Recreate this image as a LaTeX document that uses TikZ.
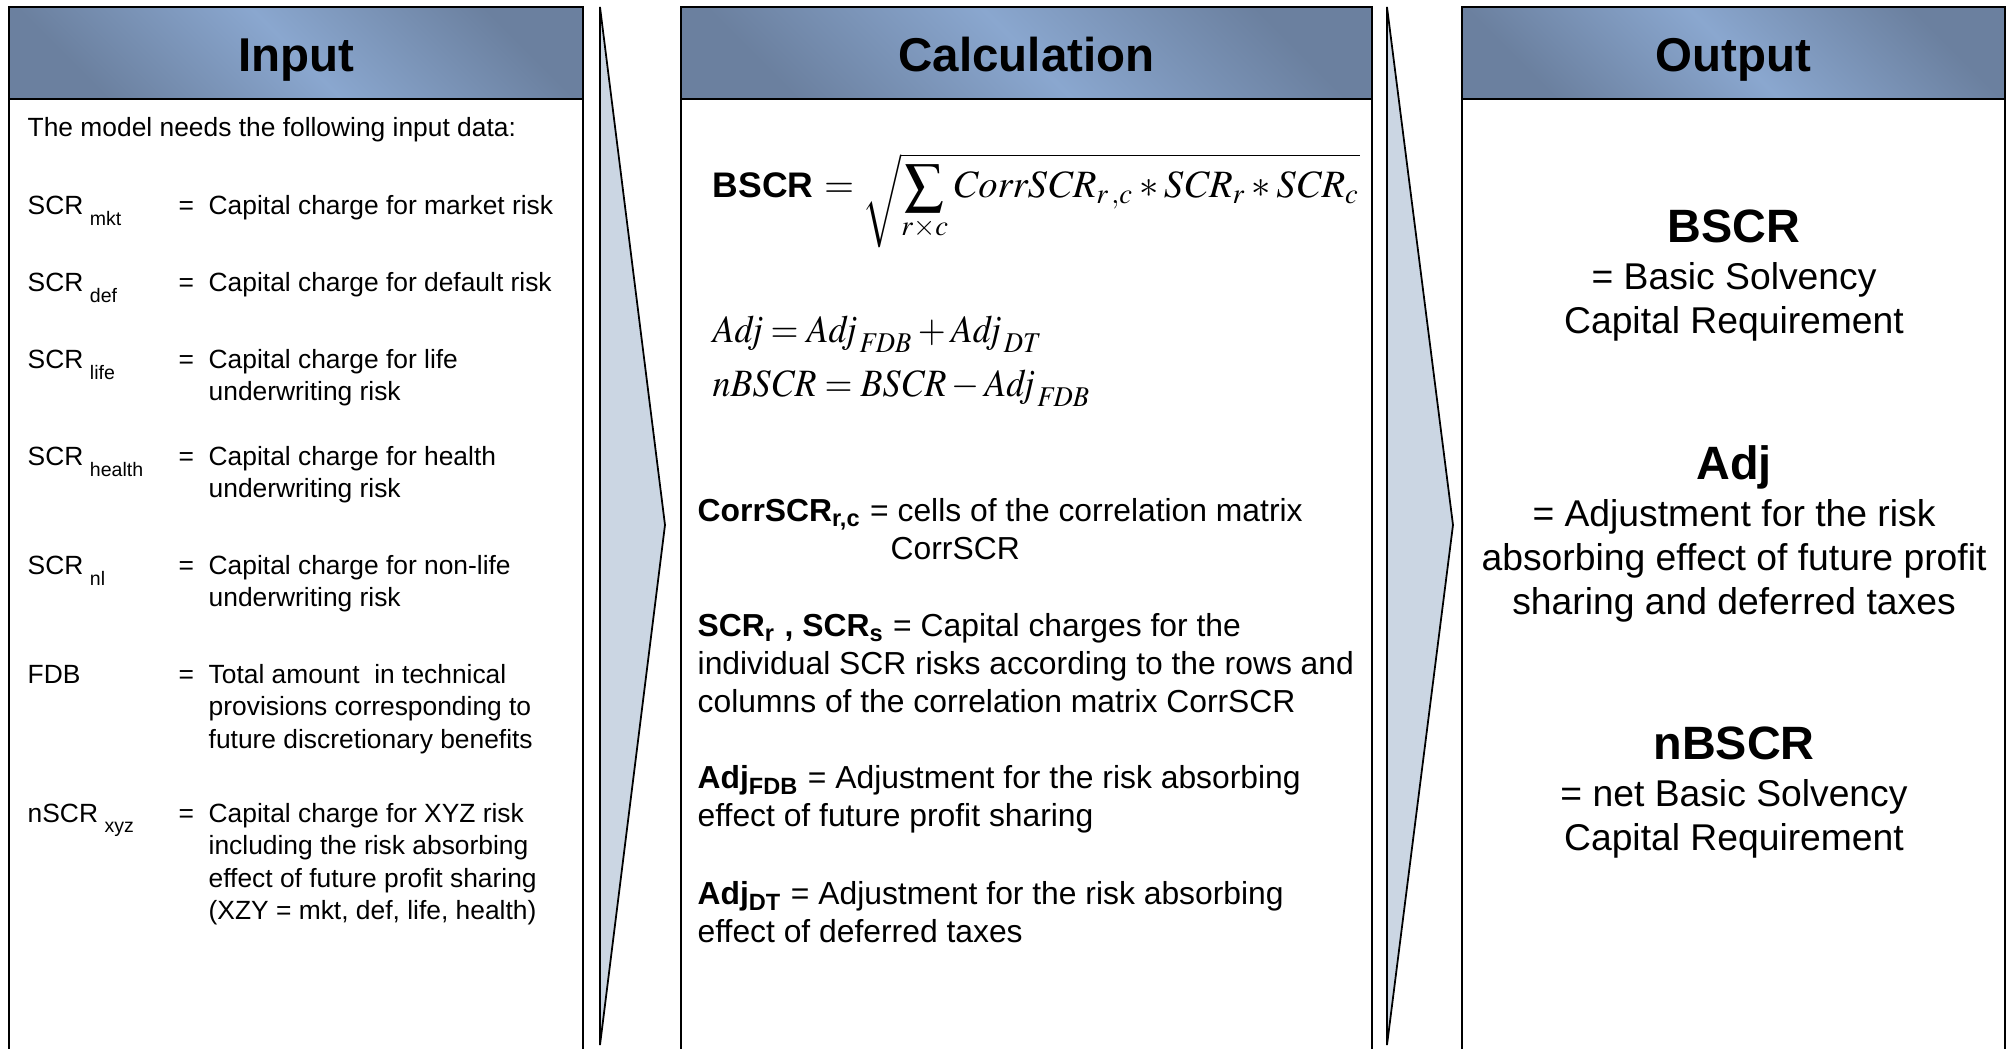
\documentclass[tikz,border=0pt]{standalone}
\usepackage{mathptmx}
\usepackage[no-math]{fontspec}
\setmainfont{Liberation Sans}
\definecolor{hdrlight}{HTML}{8AA7CF}
\definecolor{hdrdark}{HTML}{6B809F}
\definecolor{arrowfill}{HTML}{CBD6E3}
\newcommand{\lowidx}[1]{\hspace{0.25em}\raisebox{-.2em}{\textsubscript{#1}}}
\newcommand{\linestack}[2]{\begin{tabular}[t]{@{}#1@{}}#2\end{tabular}}
\begin{document}
\begin{tikzpicture}[x=0.01cm, y=-0.01cm,
    hdr/.style={draw, line width=0.6pt, top color=hdrdark, bottom color=hdrdark, middle color=hdrlight, shading angle=-45},
    panel/.style={draw, line width=0.6pt, fill=white},
    chevron/.style={draw, line width=0.5pt, fill=arrowfill, line join=miter},
    title/.style={anchor=base, inner sep=0pt, font=\fontsize{13.5}{16}\selectfont\bfseries},
    intext/.style={anchor=base west, inner sep=0pt, font=\fontsize{7.5}{9.1}\selectfont},
    calctext/.style={anchor=base west, inner sep=0pt, font=\fontsize{9.05}{10.8}\selectfont},
    formula/.style={anchor=base west, inner sep=0pt, font=\fontsize{11}{13}\selectfont},
    outhead/.style={anchor=base, inner sep=0pt, font=\fontsize{13.3}{16}\selectfont\bfseries},
    outtext/.style={anchor=base, inner sep=0pt, font=\fontsize{10.6}{12.4}\selectfont},
  ]
  \useasboundingbox (0,0) rectangle (2011,1049);
  \clip (0,0) rectangle (2011,1049);

  % panels with header
  \foreach \l/\r/\nm/\txt in {9/583/input/Input, 681/1372/calc/Calculation, 1462/2005/output/Output}{
    \draw[panel] (\l,1070) -- (\l,99) -- (\r,99) -- (\r,1070);
    \draw[hdr] (\l,7) rectangle (\r,99);
    \node[title] (\nm-title) at ({(\l+\r)/2},72) {\txt};
  }

  % arrows between panels
  \draw[chevron] (600,7) -- (665,525) -- (600,1045) -- cycle;
  \draw[chevron] (1387,7) -- (1453,525) -- (1387,1045) -- cycle;

  % input
  \node[intext] (intro) at (27,137) {The model needs the following input data:};
  \foreach \yy/\nm/\lab/\txt in {
      215/mkt/{SCR\lowidx{mkt}}/{Capital charge for market risk},
      292/def/{SCR\lowidx{def}}/{Capital charge for default risk},
      369/life/{SCR\lowidx{life}}/{Capital charge for life\\underwriting risk},
      466/health/{SCR\lowidx{health}}/{Capital charge for health\\underwriting risk},
      575/nl/{SCR\lowidx{nl}}/{Capital charge for non-life\\underwriting risk},
      684/fdb/{FDB}/{Total amount\ \ in technical\\provisions corresponding to\\future discretionary benefits},
      823/nscr/{nSCR\lowidx{xyz}}/{Capital charge for XYZ risk\\including the risk absorbing\\effect of future profit sharing\\(XZY = mkt, def, life, health)}}{
    \node[intext] (\nm-lbl) at (27,\yy) {\lab};
    \node[intext] (\nm-eq) at (178,\yy) {=};
    \node[intext] (\nm-def) at (208,\yy) {\linestack{l}{\txt}};
  }

  % calculation
  \node[formula] (bscr) at (712,198) {{\fontsize{10.1}{12}\selectfont\bfseries BSCR} ${=}\;\sqrt{\displaystyle\sum_{r\times c} \mathit{CorrSCR}_{r\,,c} * \mathit{SCR}_{r} * \mathit{SCR}_{c}}$};
  \node[formula] (adj) at (712,343) {\scalebox{0.93}[1]{$\mathit{Adj} = \mathit{Adj}_{\,\mathit{FDB}} + \mathit{Adj}_{\,\mathit{DT}}$}};
  \node[formula] (nbscr) at (712,397) {\scalebox{0.93}[1]{$\mathit{nBSCR} = \mathit{BSCR} - \mathit{Adj}_{\,\mathit{FDB}}$}};

  \node[calctext] (corr) at (697,522) {\textbf{CorrSCR\textsubscript{r,c}} = cells of the correlation matrix};
  \node[calctext] (corr2) at (890,560) {CorrSCR};
  \node[calctext] (scr) at (697,637) {\linestack{l}{\textbf{SCR\textsubscript{r} , SCR\textsubscript{s}} = Capital charges for the\\individual SCR risks according to the rows and\\columns of the correlation matrix CorrSCR}};
  \node[calctext] (adjfdb) at (697,789) {\linestack{l}{\textbf{Adj\textsubscript{FDB}} = Adjustment for the risk absorbing\\effect of future profit sharing}};
  \node[calctext] (adjdt) at (697,905) {\linestack{l}{\textbf{Adj\textsubscript{DT}} = Adjustment for the risk absorbing\\effect of deferred taxes}};

  % output
  \node[outhead] (o-bscr) at (1734,243) {BSCR};
  \node[outtext] (o-bscr-txt) at (1734,290) {\linestack{c}{= Basic Solvency\\Capital Requirement}};
  \node[outhead] (o-adj) at (1734,480) {Adj};
  \node[outtext] (o-adj-txt) at (1734,527) {\linestack{c}{= Adjustment for the risk\\absorbing effect of future profit\\sharing and deferred taxes}};
  \node[outhead] (o-nbscr) at (1734,760) {nBSCR};
  \node[outtext] (o-nbscr-txt) at (1734,807) {\linestack{c}{= net Basic Solvency\\Capital Requirement}};
\end{tikzpicture}
\end{document}
